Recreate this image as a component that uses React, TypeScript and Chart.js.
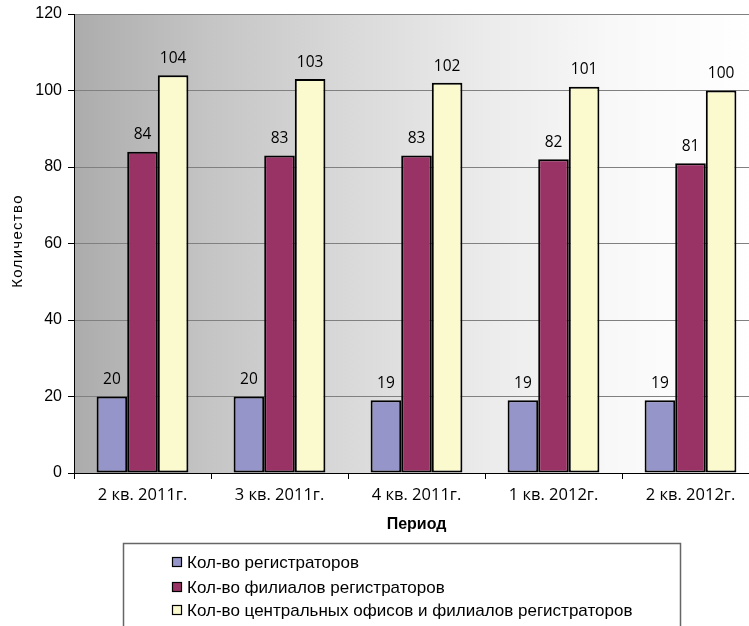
import React, { useEffect, useRef } from "react";
import { Chart, registerables } from "chart.js";

Chart.register(...registerables);

const categories = ["2 кв. 2011г.", "3 кв. 2011г.", "4 кв. 2011г.", "1 кв. 2012г.", "2 кв. 2012г."];
const registrars = [20, 20, 19, 19, 19];
const branches = [84, 83, 83, 82, 81];
const offices = [104, 103, 102, 101, 100];
const seriesNames = [
  "Кол-во регистраторов",
  "Кол-во филиалов регистраторов",
  "Кол-во центральных офисов и филиалов регистраторов",
];
const seriesColors = ["#9595C9", "#993366", "#FBFACF"];
const yTitle = "Количество";
const xTitle = "Период";

const CANVAS_W = 770;
const CANVAS_H = 640;

const bgPlugin = {
  id: "bgGradient",
  beforeDraw(chart: any) {
    const { ctx, chartArea } = chart;
    if (!chartArea) return;
    const g = ctx.createLinearGradient(chartArea.left, 0, chartArea.right, 0);
    g.addColorStop(0, "#acacac");
    g.addColorStop(0.2, "#c5c5c5");
    g.addColorStop(0.4, "#d9d9d9");
    g.addColorStop(0.6, "#ebebeb");
    g.addColorStop(0.8, "#f9f9f9");
    g.addColorStop(1, "#ffffff");
    ctx.save();
    ctx.fillStyle = g;
    ctx.fillRect(chartArea.left, chartArea.top, chartArea.right - chartArea.left, chartArea.bottom - chartArea.top);
    ctx.restore();
  },
};

const labelPlugin = {
  id: "valueLabels",
  afterDatasetsDraw(chart: any) {
    const { ctx } = chart;
    ctx.save();
    ctx.font = '15.5px "Open Sans"';
    ctx.fillStyle = "#000";
    ctx.textAlign = "center";
    ctx.textBaseline = "bottom";
    chart.data.datasets.forEach((ds: any, i: number) => {
      const meta = chart.getDatasetMeta(i);
      meta.data.forEach((bar: any, j: number) => {
        ctx.fillText(String(ds.data[j]), bar.x, bar.y - 9);
      });
    });
    ctx.restore();
  },
};

const yTitlePlugin = {
  id: "yTitle",
  afterDraw(chart: any) {
    const { ctx } = chart;
    ctx.save();
    ctx.translate(18, 241);
    ctx.rotate(-Math.PI / 2);
    ctx.font = '15px "Liberation Sans"';
    (ctx as any).letterSpacing = "1.3px";
    ctx.fillStyle = "#000";
    ctx.textAlign = "center";
    ctx.textBaseline = "middle";
    ctx.fillText(yTitle, 0, 0);
    ctx.restore();
  },
};

const legendPlugin = {
  id: "boxLegend",
  afterDraw(chart: any) {
    const { ctx } = chart;
    ctx.save();
    ctx.strokeStyle = "#666";
    ctx.lineWidth = 1.5;
    ctx.strokeRect(123.5, 543.5, 557, 120);
    ctx.font = '17px "Liberation Sans"';
    ctx.textBaseline = "middle";
    ctx.textAlign = "left";
    const rows = [562, 587, 610];
    chart.data.datasets.forEach((ds: any, i: number) => {
      const cy = rows[i];
      ctx.fillStyle = ds.backgroundColor;
      ctx.fillRect(172, cy - 5, 10, 10);
      ctx.strokeStyle = "#000";
      ctx.lineWidth = 1.2;
      ctx.strokeRect(172.5, cy - 4.5, 9, 9);
      ctx.fillStyle = "#000";
      ctx.fillText(ds.label, 187, cy + 1);
    });
    ctx.restore();
  },
};

export default function App() {
  const ref = useRef<HTMLCanvasElement>(null);
  useEffect(() => {
    if (!ref.current) return;
    const mk = (label: string, data: number[], color: string) => ({
      label,
      data,
      backgroundColor: color,
      borderColor: "#000",
      borderWidth: 2,
      borderSkipped: false,
      categoryPercentage: 0.67,
      barPercentage: 1.0,
    });
    const chart = new Chart(ref.current, {
      type: "bar",
      data: {
        labels: categories,
        datasets: [
          mk(seriesNames[0], registrars, seriesColors[0]),
          mk(seriesNames[1], branches, seriesColors[1]),
          mk(seriesNames[2], offices, seriesColors[2]),
        ],
      },
      options: {
        responsive: false,
        animation: false,
        devicePixelRatio: 1,
        layout: { padding: { left: 0, top: 12, right: CANVAS_W - 759, bottom: CANVAS_H - 535 } },
        plugins: { legend: { display: false }, tooltip: { enabled: false }, title: { display: false } },
        scales: {
          x: {
            afterFit(scale: any) {
              scale.height = 62;
            },
            grid: { drawOnChartArea: false, drawTicks: true, tickLength: 6, tickColor: "#000", offset: true },
            border: { color: "#000", width: 1 },
            ticks: { color: "#000", font: { family: "Open Sans", size: 16.5 }, padding: 6, maxRotation: 0 },
            title: {
              display: true,
              text: xTitle,
              color: "#000",
              font: { family: "Liberation Sans", size: 16, weight: "bold" },
              padding: { top: 0, bottom: 1 },
            },
          },
          y: {
            min: 0,
            max: 120,
            afterFit(scale: any) {
              scale.width = 74;
            },
            grid: { color: "#808080", lineWidth: 1, drawTicks: true, tickLength: 6, tickColor: "#000" },
            border: { color: "#000", width: 1 },
            ticks: { stepSize: 20, color: "#000", font: { family: "Liberation Sans", size: 16, lineHeight: 1 }, padding: 6 },
            title: { display: false },
          },
        },
      },
      plugins: [bgPlugin, labelPlugin, yTitlePlugin, legendPlugin],
    } as any);
    return () => chart.destroy();
  }, []);
  return (
    <div style={{ position: "fixed", left: 0, top: 0, width: 749, height: 626, overflow: "hidden", background: "#fff" }}>
      <canvas ref={ref} width={CANVAS_W} height={CANVAS_H} style={{ display: "block" }} />
    </div>
  );
}
